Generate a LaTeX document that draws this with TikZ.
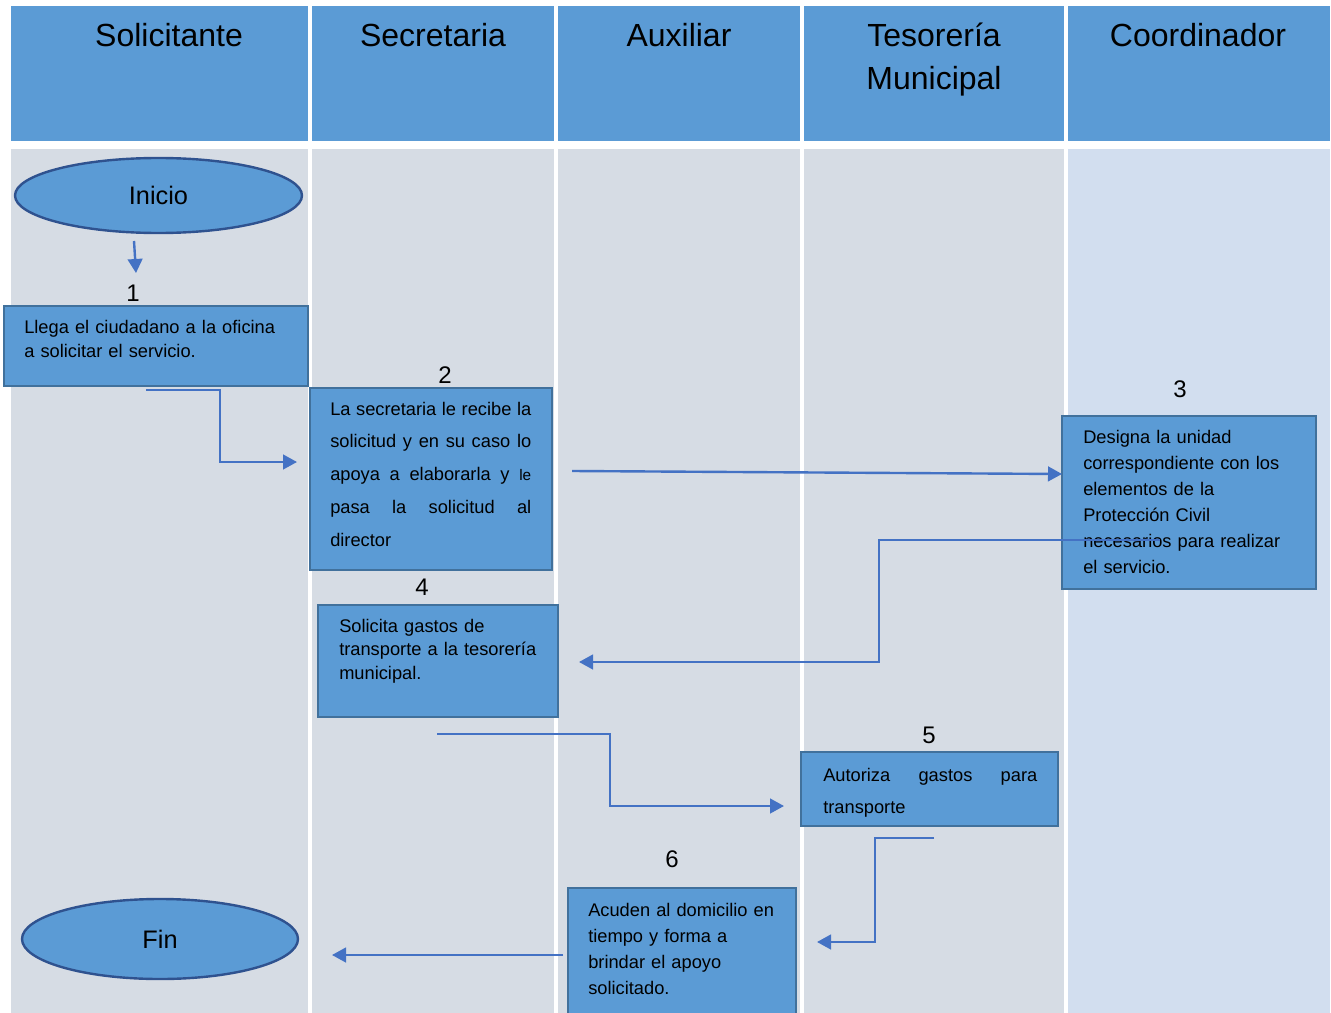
\documentclass[tikz,border=0pt]{standalone}
\usepackage{fontspec}
\setmainfont{Liberation Sans}
\usetikzlibrary{arrows.meta,shapes.geometric,fit}
\definecolor{hdr}{HTML}{5B9BD5}
\definecolor{lanegray}{HTML}{D6DCE4}
\definecolor{laneblue}{HTML}{D2DEEF}
\definecolor{boxfill}{HTML}{5B9BD5}
\definecolor{boxline}{HTML}{41719C}
\definecolor{connc}{HTML}{4472C4}
\definecolor{ellline}{HTML}{2F528F}
\newcommand{\jline}[2]{\makebox[#1][s]{\spaceskip=0pt\xspaceskip=0pt #2}}
\begin{document}
\begin{tikzpicture}[x=0.75pt,y=-0.75pt,
  stepbox/.style={draw=boxline,fill=boxfill,line width=1.8pt,inner sep=0pt},
  term/.style={ellipse,draw=ellline,fill=boxfill,line width=1.8pt,inner sep=0pt,font=\fontsize{19}{23}\selectfont},
  conn/.style={draw=connc,line width=1.8pt,-{Triangle[length=10.5pt,width=11pt]}},
  boxtext/.style={anchor=base west,inner sep=0pt,align=left},
  hdrtext/.style={anchor=base,inner sep=0pt,align=center,text width=200pt,font=\fontsize{24}{32}\selectfont},
  num/.style={inner sep=0pt,font=\fontsize{18}{20}\selectfont}]
\clip (0,0) rectangle (1331,1013);
\fill[white] (0,0) rectangle (1331,1013);
% header cells
\fill[hdr] (11,6) rectangle (308,141);
\fill[hdr] (312,6) rectangle (554,141);
\fill[hdr] (558,6) rectangle (800,141);
\fill[hdr] (804,6) rectangle (1064,141);
\fill[hdr] (1068,6) rectangle (1330,141);
% lanes
\fill[lanegray] (11,149) rectangle (308,1013);
\fill[lanegray] (312,149) rectangle (554,1013);
\fill[lanegray] (558,149) rectangle (800,1013);
\fill[lanegray] (804,149) rectangle (1064,1013);
\fill[laneblue] (1068,149) rectangle (1330,1013);
% header texts
\node[hdrtext] (h1) at (169,47) {Solicitante};
\node[hdrtext] (h2) at (433,47) {Secretaria};
\node[hdrtext] (h3) at (679,47) {Auxiliar};
\node[hdrtext] (h4) at (934,47) {Tesorería\\Municipal};
\node[hdrtext] (h5) at (1198,47) {Coordinador};
% terminals
\node[term,minimum width=215.25pt,minimum height=56.25pt] (ini) at (158.5,195.5) {\raisebox{-1.2pt}{Inicio}};
\node[term,minimum width=207pt,minimum height=60pt] (fin) at (160,939) {Fin};
% boxes
\node[stepbox,fit={(4,306)(308,386)}] (b1) {};
\node[stepbox,fit={(310,388)(552,570)}] (b2) {};
\node[stepbox,fit={(1062,416)(1316,589)}] (b3) {};
\node[stepbox,fit={(318,605)(558,717)}] (b4) {};
\node[stepbox,fit={(801,752)(1058,826)}] (b5) {};
\node[stepbox,fit={(568,888)(796,1030)}] (b6) {};
% numbers
\node[num] (n1) at (133,293) {1};
\node[num] (n2) at (445,375) {2};
\node[num] (n3) at (1180,389) {3};
\node[num] (n4) at (422,587) {4};
\node[num] (n5) at (929,735) {5};
\node[num] (n6) at (672,859) {6};
% box texts
\node[boxtext,text width=220pt,font=\fontsize{13.7}{18}\selectfont] (t1) at (24,333)
  {Llega el ciudadano a la oficina\\a solicitar el servicio.};
\node[boxtext,text width=152pt,font=\fontsize{13.7}{24.6}\selectfont] (t2) at (330,415)
  {\jline{150.75pt}{La secretaria le recibe la}\\
   \jline{150.75pt}{solicitud y en su caso lo}\\
   \jline{150.75pt}{apoya a elaborarla y {\fontsize{11.5}{11.5}\selectfont le}}\\
   \jline{150.75pt}{pasa la solicitud al}\\
   director};
\node[boxtext,text width=180pt,font=\fontsize{13.7}{19.5}\selectfont] (t3) at (1083,443)
  {Designa la unidad\\correspondiente con los\\elementos de la\\Protección Civil\\necesarios para realizar\\el servicio.};
\node[boxtext,text width=170pt,font=\fontsize{13.7}{17.7}\selectfont] (t4) at (339,632)
  {Solicita gastos de\\transporte a la tesorería\\municipal.};
\node[boxtext,text width=165pt,font=\fontsize{13.7}{24}\selectfont] (t5) at (823,781)
  {\jline{160.5pt}{Autoriza gastos para}\\transporte};
\node[boxtext,text width=165pt,font=\fontsize{13.7}{19.5}\selectfont] (t6) at (588,916)
  {Acuden al domicilio en\\tiempo y forma a\\brindar el apoyo\\solicitado.};
% connector coordinates
\coordinate (c0s) at (134,241);
\coordinate (c0e) at (136,273);
\coordinate (c1s) at (146,390);
\coordinate (c1b) at (220,462);
\coordinate (c1e) at (297,462);
\coordinate (c2s) at (572,471);
\coordinate (c2e) at (1062,474);
\coordinate (c3s) at (1160,540);
\coordinate (c3b) at (879,662);
\coordinate (c3e) at (579,662);
\coordinate (c4s) at (437,734);
\coordinate (c4b) at (610,806);
\coordinate (c4e) at (784,806);
\coordinate (c5s) at (934,838);
\coordinate (c5b) at (875,942);
\coordinate (c5e) at (817,942);
\coordinate (c6s) at (563,955);
\coordinate (c6e) at (332,955);
% connectors
\draw[conn] (c0s) -- (c0e);
\draw[conn] (c1s) -| (c1b) -- (c1e);
\draw[conn] (c2s) -- (c2e);
\draw[conn] (c3s) -| (c3b) -- (c3e);
\draw[conn] (c4s) -| (c4b) -- (c4e);
\draw[conn] (c5s) -| (c5b) -- (c5e);
\draw[conn] (c6s) -- (c6e);
\end{tikzpicture}
\end{document}
